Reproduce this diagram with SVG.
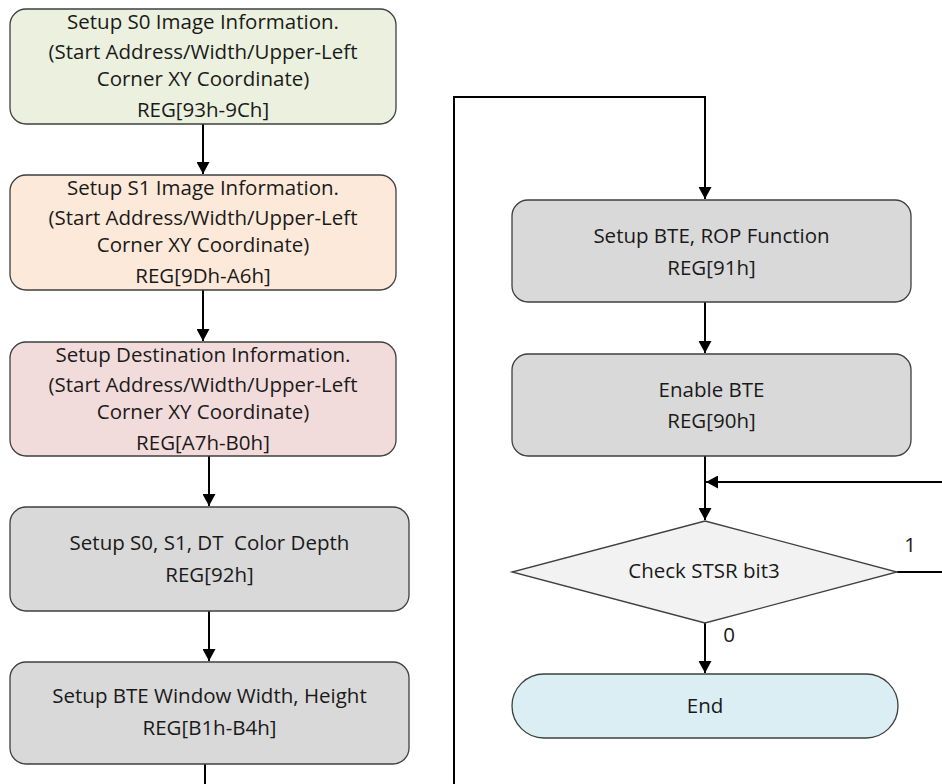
<svg xmlns="http://www.w3.org/2000/svg" width="942" height="784" viewBox="0 0 942 784">
<style>
.box{stroke:#3f3f3f;stroke-width:1.3}
.t{font-family:"Open Sans","Noto Sans","Liberation Sans",sans-serif;font-size:20.5px;fill:#1a1a1a;text-anchor:middle}
.c{fill:none;stroke:#000;stroke-width:2}
</style>
<defs>
<marker id="ah" markerWidth="12" markerHeight="13" viewBox="0 0 12 13" refX="12" refY="6.5" orient="auto" markerUnits="userSpaceOnUse">
<path d="M0,0 L12,6.5 L0,13 Z" fill="#000"/>
</marker>
</defs>
<rect width="942" height="784" fill="#fff"/>
<g id="connectors">
<path class="c" d="M203,124 V174" marker-end="url(#ah)"/>
<path class="c" d="M203,290 V341" marker-end="url(#ah)"/>
<path class="c" d="M209,456 V506" marker-end="url(#ah)"/>
<path class="c" d="M209,611 V661" marker-end="url(#ah)"/>
<path class="c" d="M205,764 V784"/>
<path class="c" d="M454,784 V97 H705 V199" marker-end="url(#ah)"/>
<path class="c" d="M705,302 V353" marker-end="url(#ah)"/>
<path class="c" d="M705,456 V520" marker-end="url(#ah)"/>
<path class="c" d="M942,482 H706" marker-end="url(#ah)"/>
<path class="c" d="M897,572 H942"/>
<path class="c" d="M705,623 V673" marker-end="url(#ah)"/>
<text class="t" x="910" y="552">1</text>
<text class="t" x="729" y="642">0</text>
</g>
<g id="s0">
<rect class="box" x="10" y="9" width="386" height="115" rx="16" fill="#ebf1de"/>
<text class="t" x="203" y="29">Setup S0 Image Information.</text>
<text class="t" x="203" y="59">(Start Address/Width/Upper-Left</text>
<text class="t" x="203" y="86">Corner XY Coordinate)</text>
<text class="t" x="203" y="117">REG[93h-9Ch]</text>
</g>
<g id="s1">
<rect class="box" x="10" y="175" width="386" height="115" rx="16" fill="#fde9d9"/>
<text class="t" x="203" y="195">Setup S1 Image Information.</text>
<text class="t" x="203" y="225">(Start Address/Width/Upper-Left</text>
<text class="t" x="203" y="252">Corner XY Coordinate)</text>
<text class="t" x="203" y="283">REG[9Dh-A6h]</text>
</g>
<g id="dest">
<rect class="box" x="10" y="342" width="386" height="114" rx="16" fill="#f2dcdb"/>
<text class="t" x="203" y="362">Setup Destination Information.</text>
<text class="t" x="203" y="392">(Start Address/Width/Upper-Left</text>
<text class="t" x="203" y="419">Corner XY Coordinate)</text>
<text class="t" x="203" y="450">REG[A7h-B0h]</text>
</g>
<g id="depth">
<rect class="box" x="10" y="507" width="399" height="104" rx="16" fill="#d9d9d9"/>
<text class="t" x="209.5" y="550" xml:space="preserve">Setup S0, S1, DT  Color Depth</text>
<text class="t" x="209.5" y="582">REG[92h]</text>
</g>
<g id="window">
<rect class="box" x="10" y="662" width="399" height="102" rx="16" fill="#d9d9d9"/>
<text class="t" x="209.5" y="703">Setup BTE Window Width, Height</text>
<text class="t" x="209.5" y="735">REG[B1h-B4h]</text>
</g>
<g id="rop">
<rect class="box" x="512" y="200" width="399" height="102" rx="16" fill="#d9d9d9"/>
<text class="t" x="711.5" y="243">Setup BTE, ROP Function</text>
<text class="t" x="711.5" y="275">REG[91h]</text>
</g>
<g id="enable">
<rect class="box" x="512" y="354" width="399" height="102" rx="16" fill="#d9d9d9"/>
<text class="t" x="711.5" y="397">Enable BTE</text>
<text class="t" x="711.5" y="428">REG[90h]</text>
</g>
<g id="check">
<polygon class="box" points="705,521 897,572 705,623 512,572" fill="#f2f2f2"/>
<text class="t" x="704" y="578">Check STSR bit3</text>
</g>
<g id="end">
<rect class="box" x="512" y="674" width="386" height="64" rx="32" fill="#daeef3"/>
<text class="t" x="705" y="713">End</text>
</g>
</svg>
